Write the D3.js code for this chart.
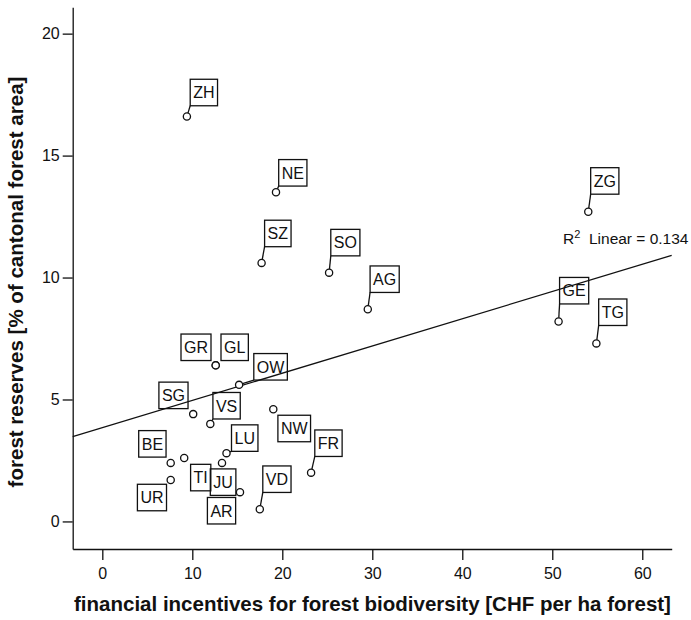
<!DOCTYPE html>
<html>
<head>
<meta charset="utf-8">
<script src="https://cdn.jsdelivr.net/npm/d3@7"></script>
<style>
  html, body { margin: 0; padding: 0; background: #fff; }
  svg { display: block; }
  text { font-family: "Liberation Sans", Arial, sans-serif; fill: #111; }
</style>
</head>
<body>
<svg id="chart" width="691" height="620"></svg>
<script>
// Cantons with forest-biodiversity incentives and forest reserve shares
const cantons    = ["ZH","NE","SZ","SO","AG","ZG","GE","TG","GR","GL","OW","SG","VS","NW","LU","FR","BE","TI","JU","UR","AR","VD"];
const incentives = [9.4, 19.3, 17.7, 25.2, 29.5, 54.0, 50.7, 54.9, 12.6, 12.6, 15.2, 10.1, 12.0, 19.0, 13.8, 23.2, 7.6, 9.1, 13.3, 7.6, 15.3, 17.5];
const reserves   = [16.6, 13.5, 10.6, 10.2, 8.7, 12.7, 8.2, 7.3, 6.4, 6.4, 5.6, 4.4, 4.0, 4.6, 2.8, 2.0, 2.4, 2.6, 2.4, 1.7, 1.2, 0.5];
const xTicks = [0, 10, 20, 30, 40, 50, 60];
const yTicks = [0, 5, 10, 15, 20];
const rSquared = 0.134;
const xTitle = "financial incentives for forest biodiversity [CHF per ha forest]";
const yTitle = "forest reserves [% of cantonal forest area]";

// Label box placement relative to each point (px): [dx, dy, leader line?]
const labelLayout = {
  ZH: [3.3, -37.3, true],  NE: [2.7, -32.6, true],  SZ: [3, -42.7, true],
  SO: [1.7, -43.3, true],  AG: [2.3, -43.3, true],  ZG: [2.4, -44, true],
  GE: [1, -44, true],      TG: [2.3, -44.4, true],  OW: [14.7, -31.3, true],
  VS: [2.6, -31.4, true],  LU: [5, -28.3, true],    FR: [3.7, -42.7, true],
  VD: [3, -43.3, true],    GR: [-34.7, -31.3, false], GL: [5.3, -31.3, false],
  SG: [-34.3, -32, false], BE: [-32, -32.3, false], UR: [-33.3, 4.3, false],
  TI: [6.4, 6.3, false],   JU: [-11.7, 6, false],   AR: [-32.6, 5.3, false],
  NW: [4.6, 6, false]
};

const data = cantons.map((c, i) => ({ name: c, x: incentives[i], y: reserves[i] }));

const svg = d3.select("#chart");
const x = d3.scaleLinear().domain([-3.29, 63.27]).range([72.7, 671.7]);
const y = d3.scaleLinear().domain([-1.13, 21.08]).range([549, 7.3]);

// Axes
const xAxis = d3.axisBottom(x).tickValues(xTicks).tickSize(11).tickPadding(8).tickSizeOuter(0);
const yAxis = d3.axisLeft(y).tickValues(yTicks).tickSize(10).tickPadding(3).tickSizeOuter(0);

const gx = svg.append("g").attr("transform", `translate(0,${y.range()[0]})`).call(xAxis);
const gy = svg.append("g").attr("transform", `translate(${x.range()[0]},0)`).call(yAxis);
[gx, gy].forEach(g => {
  g.select(".domain").attr("stroke", "#111").attr("stroke-width", 1.3);
  g.selectAll(".tick line").attr("stroke", "#111").attr("stroke-width", 1.3);
  g.selectAll(".tick text").attr("font-size", 16).attr("fill", "#111")
    .attr("font-family", "Liberation Sans, Arial, sans-serif");
});

// Axis titles, sized to span their axis
function fitTitle(sel, target) {
  const len = sel.node().getComputedTextLength();
  const fs = parseFloat(sel.attr("font-size"));
  sel.attr("font-size", fs * target / len);
}
const xt = svg.append("text")
  .attr("x", 372.5).attr("y", 611)
  .attr("text-anchor", "middle")
  .attr("font-family", "DejaVu Sans, Verdana, sans-serif")
  .attr("font-size", 15).attr("font-weight", "bold")
  .text(xTitle);
fitTitle(xt, 597);
const yt = svg.append("text")
  .attr("transform", "translate(23,282) rotate(-90)")
  .attr("text-anchor", "middle")
  .attr("font-family", "DejaVu Sans, Verdana, sans-serif")
  .attr("font-size", 15).attr("font-weight", "bold")
  .text(yTitle);
fitTitle(yt, 411);

// Linear least-squares fit, drawn across the plot width
const mx = d3.mean(data, d => d.x), my = d3.mean(data, d => d.y);
const sxy = d3.sum(data, d => (d.x - mx) * (d.y - my));
const sxx = d3.sum(data, d => (d.x - mx) ** 2);
const slope = sxy / sxx, intercept = my - slope * mx;
const [x0, x1] = x.domain();
svg.append("line")
  .attr("x1", x(x0)).attr("y1", y(intercept + slope * x0))
  .attr("x2", x(x1)).attr("y2", y(intercept + slope * x1))
  .attr("stroke", "#111").attr("stroke-width", 1.2);

// R² annotation
const r2Text = svg.append("text")
  .attr("x", 563).attr("y", 244)
  .attr("font-size", 15.5);
r2Text.append("tspan").text("R");
r2Text.append("tspan").attr("font-size", 11).attr("dy", -6).text("2");
r2Text.append("tspan").attr("dy", 6).text("\u00a0 Linear = " + rSquared.toFixed(3));

// Labels with boxes and leader lines
const labels = svg.append("g");
data.forEach(d => {
  const px = x(d.x), py = y(d.y);
  const [dx, dy, leader] = labelLayout[d.name];
  const g = labels.append("g");
  const t = g.append("text")
    .attr("font-size", 16)
    .attr("text-anchor", "middle")
    .text(d.name);
  const w = t.node().getComputedTextLength() + 6;
  const h = 26.5;
  const bx = px + dx, by = py + dy;
  t.attr("x", bx + w / 2).attr("y", by + h / 2 + 5.8);
  g.append("rect")
    .attr("x", bx).attr("y", by).attr("width", w).attr("height", h)
    .attr("fill", "none").attr("stroke", "#111").attr("stroke-width", 1.3);
  if (leader) {
    const cx = bx, cy = by + h;
    const len = Math.hypot(cx - px, cy - py);
    const r = 3.6;
    g.append("line")
      .attr("x1", px + (cx - px) * r / len).attr("y1", py + (cy - py) * r / len)
      .attr("x2", cx).attr("y2", cy)
      .attr("stroke", "#111").attr("stroke-width", 1.3);
  }
});

// Points
svg.append("g").selectAll("circle")
  .data(data)
  .join("circle")
  .attr("cx", d => x(d.x))
  .attr("cy", d => y(d.y))
  .attr("r", 3.6)
  .attr("fill", "#fff")
  .attr("stroke", "#111")
  .attr("stroke-width", 1.3);
</script>
</body>
</html>
